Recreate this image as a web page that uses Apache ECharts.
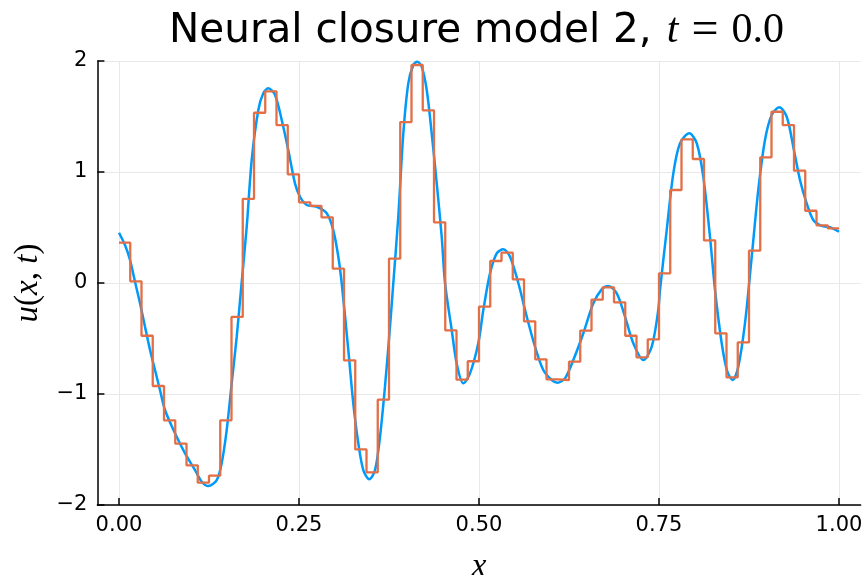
<!DOCTYPE html>
<html>
<head>
<meta charset="utf-8">
<script src="https://cdn.jsdelivr.net/npm/echarts@6/dist/echarts.min.js"></script>
<style>html,body{margin:0;padding:0;background:#fff}#c{width:868px;height:575px}</style>
</head>
<body>
<div id="c"></div>
<script>
// Smooth reference solution u(x, t=0)
const refX = [0.000,0.0083,0.0153,0.0222,0.0292,0.0361,0.0431,0.0500,0.0569,0.0639,0.0778,0.0917,0.1056,0.1149,0.1240,0.1357,0.1426,0.1496,0.1565,0.1635,0.1694,0.1774,0.1843,0.1935,0.2004,0.2074,0.2167,0.2260,0.2351,0.2444,0.2514,0.2607,0.2746,0.2885,0.2976,0.3046,0.3093,0.3185,0.3254,0.3324,0.3393,0.3476,0.3556,0.3625,0.3694,0.3764,0.3810,0.3879,0.3949,0.4018,0.4088,0.4143,0.4204,0.4274,0.4343,0.4413,0.4482,0.4528,0.4621,0.4690,0.4782,0.4875,0.4990,0.5060,0.5153,0.5246,0.5338,0.5431,0.5546,0.5663,0.5778,0.5893,0.6010,0.6088,0.6194,0.6310,0.6449,0.6588,0.6704,0.6796,0.6913,0.7028,0.7143,0.7282,0.7399,0.7490,0.7514,0.7607,0.7699,0.7792,0.7921,0.8024,0.8115,0.8208,0.8278,0.8371,0.8449,0.8524,0.8601,0.8694,0.8788,0.8879,0.8972,0.9065,0.9171,0.9274,0.9365,0.9458,0.9551,0.9643,0.9760,0.9875,1.000];
const refU = [0.453,0.342,0.207,0.012,-0.183,-0.393,-0.604,-0.784,-0.964,-1.144,-1.354,-1.535,-1.685,-1.790,-1.829,-1.775,-1.624,-1.324,-0.904,-0.484,-0.063,0.507,1.108,1.559,1.709,1.754,1.694,1.468,1.198,0.898,0.777,0.703,0.687,0.628,0.477,0.237,0.000,-0.604,-1.084,-1.444,-1.685,-1.769,-1.685,-1.385,-0.934,-0.393,0.000,0.597,1.349,1.799,1.964,1.994,1.949,1.739,1.349,0.898,0.417,0.000,-0.423,-0.724,-0.904,-0.814,-0.543,-0.243,0.087,0.267,0.303,0.237,0.000,-0.303,-0.574,-0.784,-0.874,-0.898,-0.859,-0.694,-0.453,-0.183,-0.057,-0.027,-0.093,-0.303,-0.543,-0.694,-0.574,-0.243,-0.063,0.477,0.988,1.259,1.349,1.259,0.958,0.417,-0.063,-0.543,-0.799,-0.874,-0.754,-0.363,0.237,0.838,1.288,1.514,1.583,1.498,1.228,0.928,0.718,0.568,0.514,0.502,0.462];
// Neural closure model 2: 64 cell values (piecewise constant)
const nCells = 64;
const cellU = [0.363,0.015,-0.475,-0.928,-1.237,-1.447,-1.643,-1.799,-1.736,-1.237,-0.306,0.757,1.534,1.727,1.423,0.979,0.727,0.694,0.592,0.129,-0.697,-1.499,-1.706,-1.051,0.219,1.450,1.964,1.556,0.547,-0.426,-0.871,-0.705,-0.213,0.198,0.273,0.033,-0.345,-0.688,-0.868,-0.874,-0.709,-0.429,-0.150,-0.039,-0.174,-0.475,-0.670,-0.508,0.087,0.838,1.294,1.117,0.384,-0.453,-0.850,-0.535,0.291,1.132,1.543,1.423,1.012,0.651,0.520,0.493];
const xTickLabels = ['0.00','0.25','0.50','0.75','1.00'];
const yTickLabels = ['\u22122','\u22121','0','1','2'];

const refData = refX.map((x,i)=>[x, refU[i]]);
const cellData = cellU.map((v,i)=>[i/nCells, v]);
cellData.push([1, cellU[cellU.length-1]]);

const chart = echarts.init(document.getElementById('c'), null, {renderer:'canvas'});
const sans = 'DejaVu Sans';
const serif = 'Liberation Serif';
chart.setOption({
  animation:false,
  backgroundColor:'#fff',
  title:{
    left:164, top:2,
    text:'{a|Neural closure model 2,}{b|t}{c|=}{d|0.0}',
    textStyle:{fontWeight:'normal',rich:{
      a:{fontFamily:sans,fontSize:40.5,fontWeight:'normal',color:'#000'},
      b:{fontFamily:serif,fontStyle:'italic',fontWeight:'normal',fontSize:42,color:'#000',padding:[0,0,0,15]},
      c:{fontFamily:serif,fontSize:48,fontWeight:'normal',color:'#000',padding:[0,13,0,13]},
      d:{fontFamily:serif,fontSize:42,fontWeight:'normal',color:'#000'}
    }}
  },
  grid:[
    {left:97.4,right:7.4,top:61,bottom:70,containLabel:false,outerBoundsMode:'none'},
    {left:119,right:29,top:61,bottom:70,containLabel:false,outerBoundsMode:'none'}
  ],
  xAxis:[
    {gridIndex:0,type:'value',min:-0.03,max:1.03,
     axisLine:{show:true,onZero:false,lineStyle:{color:'#000',width:1.5}},
     axisTick:{show:false},axisLabel:{show:false},splitLine:{show:false}},
    {gridIndex:1,type:'value',min:0,max:1,interval:0.25,
     axisLine:{show:false,onZero:false},
     axisTick:{show:true,inside:true,length:7,lineStyle:{color:'#000',width:1.5}},
     axisLabel:{fontFamily:sans,fontSize:21,color:'#000',margin:10,
       formatter:v=>xTickLabels[Math.round(v*4)]},
     splitLine:{show:true,lineStyle:{color:'#e8e8e8',width:1}},
     name:'x',nameLocation:'middle',nameGap:46,
     nameTextStyle:{fontFamily:serif,fontStyle:'italic',fontSize:33,color:'#000'}}
  ],
  yAxis:[
    {gridIndex:0,type:'value',min:-2,max:2,interval:1,
     axisLine:{show:true,onZero:false,lineStyle:{color:'#000',width:1.5}},
     axisTick:{show:true,inside:true,length:7,lineStyle:{color:'#000',width:1.5}},
     axisLabel:{fontFamily:sans,fontSize:21,color:'#000',margin:10,
       formatter:v=>yTickLabels[Math.round(v)+2]},
     splitLine:{show:true,lineStyle:{color:'#e8e8e8',width:1}},
     name:'{i|u}{r|(}{i|x}{r|, }{i|t}{r|)}',nameLocation:'middle',nameGap:53,nameRotate:90,
     nameTextStyle:{rich:{
       i:{fontFamily:serif,fontStyle:'italic',fontSize:33,color:'#000'},
       r:{fontFamily:serif,fontSize:33,color:'#000'}
     }}},
    {gridIndex:1,type:'value',min:-2,max:2,show:false,
     axisLine:{show:false},axisTick:{show:false},axisLabel:{show:false},splitLine:{show:false}}
  ],
  series:[
    {type:'line',xAxisIndex:1,yAxisIndex:1,data:refData,showSymbol:false,smooth:0.3,
     lineStyle:{color:'#009AFA',width:2.5},itemStyle:{color:'#009AFA'},z:2},
    {type:'line',xAxisIndex:1,yAxisIndex:1,data:cellData,showSymbol:false,step:'end',
     lineStyle:{color:'#E26F46',width:2.3},itemStyle:{color:'#E26F46'},z:3}
  ]
});
</script>
</body>
</html>
